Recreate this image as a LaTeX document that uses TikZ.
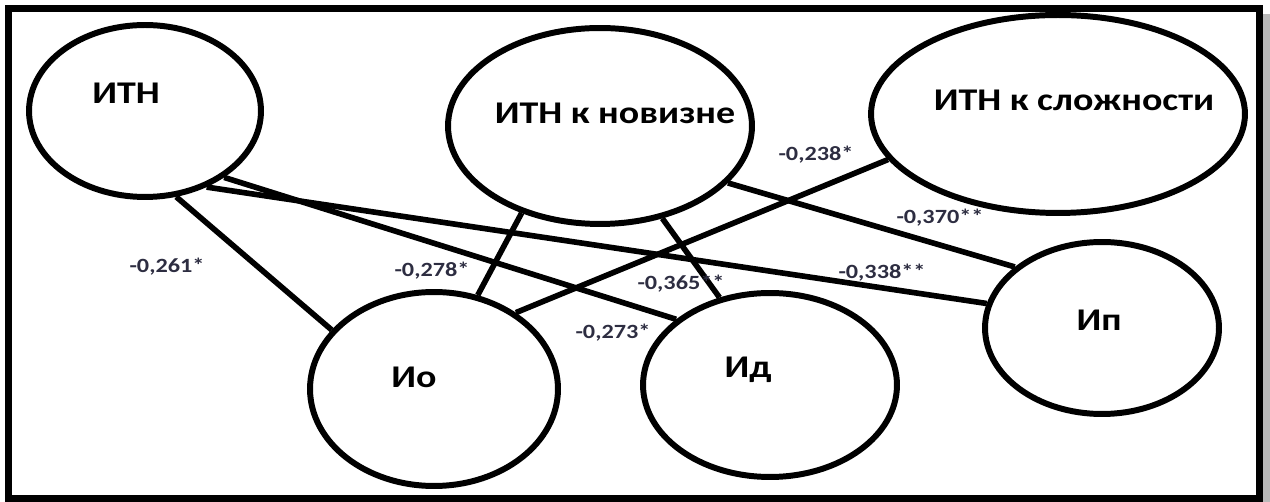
\documentclass[tikz,border=0pt]{standalone}
\usepackage{fontspec}
\newfontfamily\nfont[FakeStretch=1.2]{Carlito}
\usetikzlibrary{shapes.geometric}
\definecolor{labcol}{RGB}{45,45,65}
\begin{document}
\begin{tikzpicture}[x=0.02cm,y=-0.02cm,
  oval/.style={ellipse, draw, line width=3.4pt, inner sep=0pt},
  conn/.style={line width=3.2pt},
  ntext/.style={font=\nfont\bfseries\fontsize{18}{20}\selectfont, inner sep=0pt},
  lab/.style={font=\nfont\bfseries\fontsize{11.5}{13}\selectfont, text=labcol, inner sep=0pt}]
\useasboundingbox (0,0) rectangle (1270,502);
% frame
\fill[gray!55] (1262.5,14) rectangle (1270,502);
\draw[line width=0.14cm] (8.5,8.5) rectangle (1259,498.5);
% ellipses
\node[oval, minimum width=4.64cm, minimum height=3.44cm] (itn) at (145,111) {};
\node[oval, minimum width=6.08cm, minimum height=3.92cm] (nov) at (600,126) {};
\node[oval, minimum width=7.48cm, minimum height=3.96cm] (slo) at (1058,114) {};
\node[oval, minimum width=4.96cm, minimum height=3.88cm] (io) at (434,389) {};
\node[oval, minimum width=5.08cm, minimum height=3.68cm] (id) at (770,385) {};
\node[oval, minimum width=4.68cm, minimum height=3.44cm] (ip) at (1102,328) {};
% texts
\node[ntext] (itnt) at (126,93) {ИТН};
\node[ntext] (novt) at (615,113) {ИТН к новизне};
\node[ntext] (slot) at (1074,100) {ИТН к сложности};
\node[ntext] (iot) at (414,377) {Ио};
\node[ntext] (idt) at (748,370) {Ид};
\node[ntext] (ipt) at (1099,320) {Ип};
% connectors
\draw[conn] (itn.-70.2) -- (io.150.6);
\draw[conn] (itn.-40.1) -- (id.145.0);
\draw[conn] (itn.-51.4) -- (ip.168.9);
\draw[conn] (nov.-132.9) -- (io.65.5);
\draw[conn] (nov.-56.7) -- (id.120.9);
\draw[conn] (nov.-24.4) -- (ip.145.9);
\draw[conn] (slo.-165.9) -- (io.43.2);
% labels
\node[lab] (l1) at (167,267) {-0,261*};
\node[lab] (l2) at (432,271) {-0,278*};
\node[lab] (l3) at (613,333) {-0,273*};
\node[lab] (l4) at (681,284) {-0,365**};
\node[lab] (l5) at (882,273) {-0,338**};
\node[lab] (l6) at (940,218) {-0,370**};
\node[lab] (l7) at (816,155) {-0,238*};
\end{tikzpicture}
\end{document}
